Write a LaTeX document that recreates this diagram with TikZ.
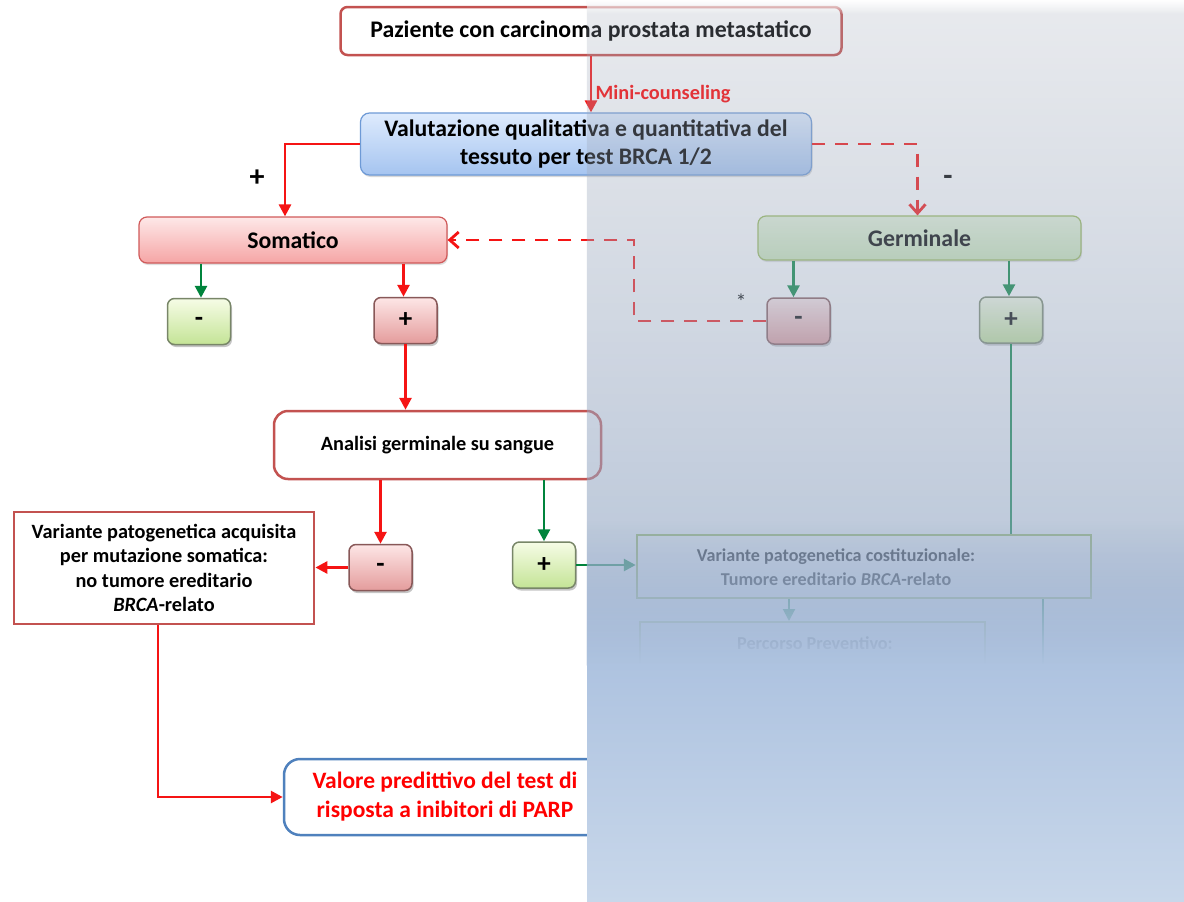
\documentclass[tikz,border=0pt]{standalone}
\usepackage{fontspec}
\setmainfont{Carlito}
\usetikzlibrary{arrows.meta,shadows,fadings}

\definecolor{boxred}{RGB}{195,82,80}
\definecolor{arrred}{RGB}{245,20,20}
\definecolor{arrgreen}{RGB}{0,132,60}
\definecolor{bluetop}{RGB}{222,235,253}
\definecolor{bluebot}{RGB}{165,196,240}
\definecolor{blueedge}{RGB}{110,154,214}
\definecolor{pinktop}{RGB}{254,232,232}
\definecolor{pinkbot}{RGB}{245,165,165}
\definecolor{pinkedge}{RGB}{208,90,90}
\definecolor{germtop}{RGB}{230,244,218}
\definecolor{germbot}{RGB}{205,232,185}
\definecolor{germedge}{RGB}{155,187,89}
\definecolor{keygtop}{RGB}{246,252,230}
\definecolor{keygbot}{RGB}{196,228,150}
\definecolor{keygedge}{RGB}{120,134,104}
\definecolor{keyrtop}{RGB}{253,230,230}
\definecolor{keyrbot}{RGB}{228,156,156}
\definecolor{keyredge}{RGB}{136,88,88}
\definecolor{predblue}{RGB}{79,129,189}
\definecolor{covtop}{RGB}{163,171,186}
\definecolor{covmid}{RGB}{146,168,200}
\definecolor{covlow}{RGB}{174,195,224}
\definecolor{covbot}{RGB}{200,215,234}

% opacity of the grey-blue cover
\tikzfading[name=coverfade, top color=transparent!76, bottom color=transparent!30]
\tikzfading[name=coverend, top color=transparent!100, bottom color=transparent!0]
\tikzfading[name=whitetop, top color=transparent!0, bottom color=transparent!100]

\tikzset{
  bigtext/.style={font=\bfseries\fontsize{23.8}{28}\selectfont},
  midtext/.style={font=\bfseries\fontsize{20.3}{24.5}\selectfont},
  keytext/.style={font=\bfseries\fontsize{27}{28}\selectfont},
  pazbox/.style={draw=boxred, line width=2.5pt, rounded corners=7pt, fill=white,
    minimum width=501pt, minimum height=48pt, bigtext},
  valbox/.style={draw=blueedge, line width=1.2pt, rounded corners=9pt, top color=bluetop,
    bottom color=bluebot, minimum width=451pt, minimum height=62pt, align=center,
    font=\bfseries\fontsize{23.7}{28}\selectfont,
    drop shadow={opacity=0.3, shadow xshift=1pt, shadow yshift=-2pt}},
  somabox/.style={draw=pinkedge, line width=1.2pt, rounded corners=8pt, top color=pinktop,
    bottom color=pinkbot, minimum width=308pt, minimum height=46pt, bigtext,
    drop shadow={opacity=0.25, shadow xshift=1pt, shadow yshift=-2pt}},
  germbox/.style={somabox, draw=germedge, top color=germtop, bottom color=germbot,
    minimum width=323pt, minimum height=44pt},
  greenkey/.style={draw=keygedge, line width=1.5pt, rounded corners=7pt, top color=keygtop,
    bottom color=keygbot, minimum width=63pt, minimum height=46pt, keytext,
    drop shadow={opacity=0.45, shadow xshift=1.5pt, shadow yshift=-2.5pt}},
  redkey/.style={greenkey, draw=keyredge, top color=keyrtop, bottom color=keyrbot},
  analbox/.style={draw=boxred, line width=2.5pt, rounded corners=14pt, fill=white,
    minimum width=327pt, minimum height=68pt, midtext},
  acqbox/.style={draw=boxred, line width=2.8pt, fill=white, minimum width=300pt,
    minimum height=112pt, align=center, midtext},
  predbox/.style={draw=predblue, line width=2.5pt, rounded corners=16pt, fill=white,
    minimum width=322pt, minimum height=76pt, align=center, text=red,
    font=\bfseries\fontsize{23.5}{29}\selectfont},
  costbox/.style={draw=germedge, line width=2.5pt, fill=white, minimum width=454pt,
    minimum height=63pt},
  redarrow/.style={draw=arrred, line width=2.8pt, -{Triangle[length=12pt,width=12pt]}},
  greenarrow/.style={draw=arrgreen, line width=2.8pt, -{Triangle[length=12pt,width=12pt]}},
  greenline/.style={draw=arrgreen, line width=2.8pt},
  reddash/.style={draw=arrred, line width=2.8pt, dash pattern=on 13pt off 10pt,
    -{Straight Barb[length=9pt,width=16pt,line width=2.8pt]}},
}

\begin{document}
\begin{tikzpicture}[x=1pt,y=1pt]
\useasboundingbox (0,0) rectangle (1184,-902);
\fill[white] (0,0) rectangle (1184,-902);

% boxes
\node[pazbox] (paz) at (591,-31) {Paziente con carcinoma prostata metastatico};
\node[valbox] (valut) at (586,-144) {Valutazione qualitativa e quantitativa del\\tessuto per test BRCA 1/2};
\node[somabox] (soma) at (293,-240) {Somatico};
\node[germbox] (germ) at (919.5,-238) {Germinale};
\node[greenkey] (sneg) at (199,-321.5) {-};
\node[redkey] (spos) at (405.5,-320.5) {+};
\node[redkey] (gneg) at (798.5,-321) {-};
\node[greenkey] (gpos) at (1011,-320) {+};
\node[analbox] (anal) at (437.5,-445) {Analisi germinale su sangue};
\node[redkey] (aneg) at (380.5,-567.5) {-};
\node[greenkey] (apos) at (544,-565) {+};
\node[acqbox] (acq) at (164,-568) {Variante patogenetica acquisita\\per mutazione somatica:\\no tumore ereditario\\\textit{BRCA}-relato};
\node[predbox] (pred) at (445,-797) {Valore predittivo del test di\\risposta a inibitori di PARP};
\node[costbox] (cost) at (864,-566.5) {};
\node[align=center, font=\bfseries\fontsize{18.1}{24}\selectfont] (costtxt) at (836,-567) {Variante patogenetica costituzionale:\\Tumore ereditario \textit{BRCA}-relato};
\node[draw=germedge, line width=2pt, minimum width=345pt, minimum height=80pt] (prev) at (812.5,-662) {};
\node[font=\bfseries\fontsize{18.2}{22}\selectfont] (prevtxt) at (815,-643) {Percorso Preventivo:};

% connectors
\draw[redarrow] (paz.south) -- (paz.south |- valut.north)
  node[pos=0.68, right, text=red, font=\bfseries\fontsize{20.3}{22}\selectfont] (mini) {Mini-counseling};
\draw[redarrow] (valut.west) -| ([xshift=-8pt]soma.north);
\node[font=\bfseries\fontsize{30}{30}\selectfont] (plus) at (257,-178) {+};
\draw[reddash] (valut.east) -| ([xshift=-2pt]germ.north);
\node[font=\bfseries\fontsize{30}{30}\selectfont] (minus) at (948,-180) {-};
\coordinate (bend) at (634,-240);
\draw[reddash] (gneg.west) -| (bend) -- (soma.east);
\node[font=\fontsize{22}{22}\selectfont] (star) at (741,-302) {*};
\draw[greenarrow] ([xshift=2pt]sneg.north |- soma.south) -- ([xshift=2pt]sneg.north);
\draw[redarrow] ([xshift=-2pt]spos.north |- soma.south) -- ([xshift=-2pt]spos.north);
\draw[greenarrow] ([xshift=-5pt]gneg.north |- germ.south) -- ([xshift=-5pt]gneg.north);
\draw[greenarrow] ([xshift=-2pt]gpos.north |- germ.south) -- ([xshift=-2pt]gpos.north);
\draw[redarrow] (spos.south) -- (spos.south |- anal.north);
\draw[redarrow] (aneg.north |- anal.south) -- (aneg.north);
\draw[greenarrow] (apos.north |- anal.south) -- (apos.north);
\draw[redarrow] (aneg.west) -- (aneg.west -| acq.east);
\draw[greenarrow] (apos.east) -- (apos.east -| cost.west);
\draw[greenline] (gpos.south) -- (gpos.south |- cost.north);
\draw[greenarrow, line width=2pt] ([xshift=-75pt]cost.south) -- ([xshift=-75pt]cost.south |- prev.north);
\coordinate (costend) at (1043,-720);
\draw[greenline, line width=2pt] ([xshift=179pt]cost.south) -- (costend);
\draw[redarrow] ([xshift=-6pt]acq.south) |- (pred.west);

% grey-blue cover on the right half
\shade[top color=covtop, bottom color=covmid, path fading=coverfade] (587,0) rectangle (1184,-665);
\shade[top color=covmid, bottom color=covlow, path fading=coverend] (587,-520) rectangle (1184,-665);
\shade[top color=covlow, bottom color=covbot] (587,-664.5) rectangle (1184,-902);
\fill[white, path fading=whitetop] (587,0) rectangle (1184,-14);
\end{tikzpicture}
\end{document}
